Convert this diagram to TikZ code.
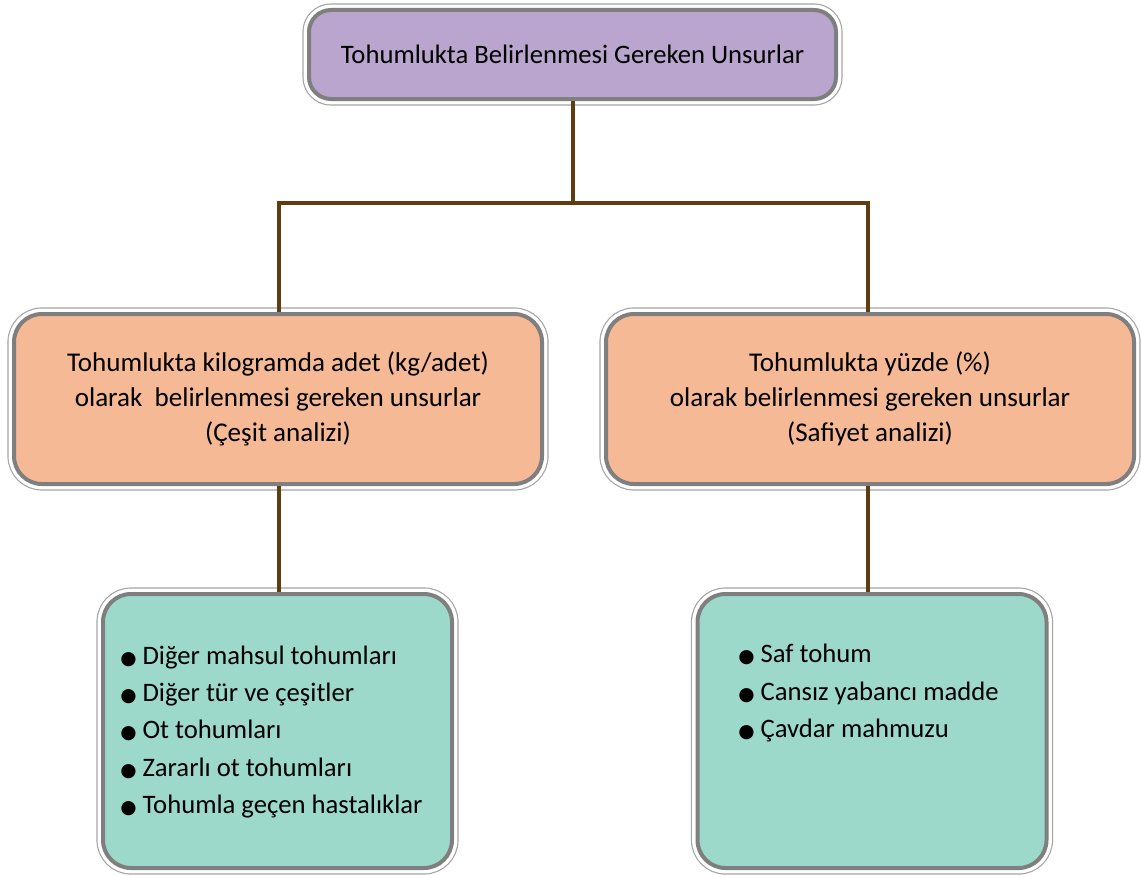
\documentclass[tikz,border=0pt]{standalone}
\usepackage{fontspec}
\setmainfont{Carlito}
\newfontfamily\symfont{DejaVu Sans}
\definecolor{headfill}{HTML}{B9A5CE}
\definecolor{midfill}{HTML}{F5B995}
\definecolor{leaffill}{HTML}{9DD9CB}
\definecolor{linkcol}{HTML}{5E3E10}
\definecolor{rimcol}{HTML}{7F7F7F}
\newcommand{\bul}{{\symfont\fontsize{14}{14}\selectfont ●}\ }
\tikzset{
  box/.style={rectangle, rounded corners=21pt, draw=rimcol, line width=3pt,
    preaction={draw=rimcol!70, line width=9.9pt},
    preaction={draw=white, line width=8.1pt},
    font=\fontsize{20.3}{26.25}\selectfont, align=center, inner sep=0pt},
  headbox/.style={box, fill=headfill, rounded corners=16.5pt, font=\fontsize{20}{26}\selectfont,
    minimum width=395.25pt, minimum height=66.75pt},
  midbox/.style={box, fill=midfill, minimum width=396pt, minimum height=127.5pt},
  leafbox/.style={box, fill=leaffill, minimum width=261.75pt, minimum height=205.5pt},
  items/.style={font=\fontsize{20}{27.9}\selectfont, align=left, anchor=west, inner sep=0pt},
  link/.style={draw=linkcol, line width=3pt}
}
\begin{document}
\begin{tikzpicture}[x=0.75pt, y=-0.75pt]
  \useasboundingbox (0,0) rectangle (1141,874);
  \draw
    (572.5,54.5) node[headbox] (top){Tohumlukta Belirlenmesi Gereken Unsurlar}
    (278,399) node[midbox] (kg){Tohumlukta kilogramda adet (kg/adet)\\olarak\ \ belirlenmesi gereken unsurlar\\(Çeşit analizi)}
    (870,399) node[midbox] (pct){Tohumlukta yüzde (\%)\\olarak belirlenmesi gereken unsurlar\\(Safiyet analizi)}
    (277.5,731) node[leafbox] (kgleaf){}
    (872,731) node[leafbox] (pctleaf){}
    (120,732) node[items] (kglist){\bul Diğer mahsul tohumları\\\bul Diğer tür ve çeşitler\\\bul Ot tohumları\\\bul Zararlı ot tohumları\\\bul Tohumla geçen hastalıklar}
    (738,693) node[items] (pctlist){\bul Saf tohum\\\bul Cansız yabancı madde\\\bul Çavdar mahmuzu};
  \coordinate (split) at (572.5,203);
  \begin{scope}[link]
    \draw (top.south) -- (split);
    \draw (split) -| (kg.north -| 279,0);
    \draw (split) -| (pct.north -| 868,0);
    \draw (kg.south -| 279,0) -- (kgleaf.north -| 279,0);
    \draw (pct.south -| 868,0) -- (pctleaf.north -| 868,0);
  \end{scope}
\end{tikzpicture}
\end{document}
